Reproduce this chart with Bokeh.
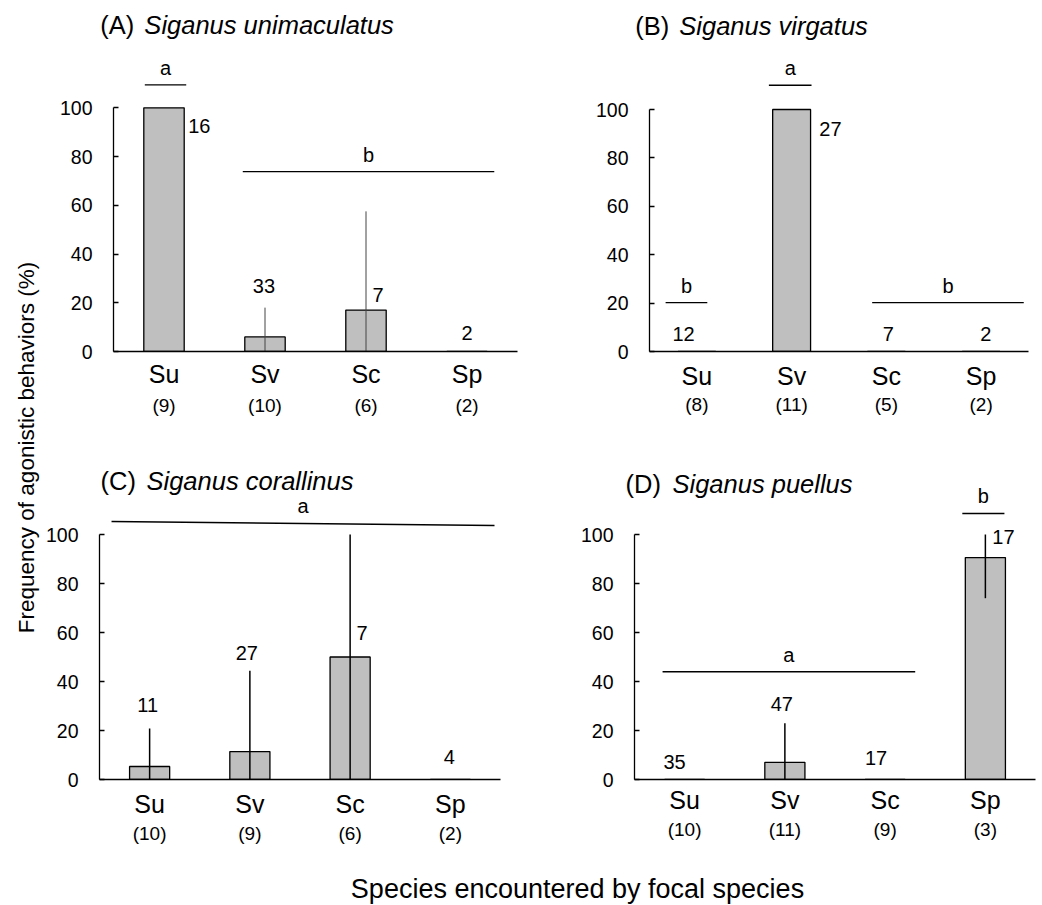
import numpy as np
from bokeh.plotting import figure
from bokeh.models import Range1d, FixedTicker, LinearAxis, Label
from bokeh.layouts import row, column
from bokeh.embed import file_html
from bokeh.resources import INLINE
from bokeh.core.properties import value

FONT = "Liberation Sans"

# ---------------- data ----------------
categories = ["Su", "Sv", "Sc", "Sp"]

# (A) Siganus unimaculatus
a_mean = [100, 6, 17, 0]
a_sd = [0, 12, 40.5, 0]
a_obs = ["16", "33", "7", "2"]
a_ind = ["(9)", "(10)", "(6)", "(2)"]

# (B) Siganus virgatus
b_mean = [0, 100, 0, 0]
b_sd = [0, 0, 0, 0]
b_obs = ["12", "27", "7", "2"]
b_ind = ["(8)", "(11)", "(5)", "(2)"]

# (C) Siganus corallinus
c_mean = [5.3, 11.4, 50, 0]
c_sd = [15.5, 33, 50, 0]
c_obs = ["11", "27", "7", "4"]
c_ind = ["(10)", "(9)", "(6)", "(2)"]

# (D) Siganus puellus
d_mean = [0, 7, 0, 90.6]
d_sd = [0, 16, 0, 16.6]
d_obs = ["35", "47", "17", "17"]
d_ind = ["(10)", "(11)", "(9)", "(3)"]

# significance groups: letter, categories covered
a_groups = [("a", ["Su"]), ("b", ["Sv", "Sc", "Sp"])]
b_groups = [("a", ["Sv"]), ("b", ["Su"]), ("b", ["Sc", "Sp"])]
c_groups = [("a", ["Su", "Sv", "Sc", "Sp"])]
d_groups = [("a", ["Su", "Sv", "Sc"]), ("b", ["Sp"])]

# ---------------- placement (annotation layout) ----------------
layout_cfg = {
    "A": dict(obs_pos=[(0.35, 92.6), (-0.01, 27), (0.12, 23), (0.0, 7.5)],
              sig=[(0.31, 0.72, 109.4, 109.4), (1.28, 3.77, 73.8, 73.8)],
              title_xy=(-0.13, 134), title_off=44, key_place="above", species_place="above",
              err_w=1.0, err_c="#444444"),
    "B": dict(obs_pos=[(-0.14, 7.4), (0.41, 92), (0.02, 7.4), (0.05, 7.4)],
              sig=[(1.26, 1.71, 110, 110), (0.17, 0.61, 20.2, 20.2), (2.35, 3.95, 20.2, 20.2)],
              title_xy=(-0.15, 134.7), title_off=44, key_place="above", species_place="above",
              err_w=1.3, err_c="black"),
    "C": dict(obs_pos=[(-0.02, 30.6), (-0.03, 51.8), (0.12, 60), (-0.01, 9)],
              sig=[(0.12, 3.94, 105.3, 103.7)],
              title_xy=(0.01, 122), title_off=46, key_place="center", species_place="center",
              err_w=1.5, err_c="black"),
    "D": dict(obs_pos=[(-0.10, 7.3), (-0.03, 31), (-0.09, 8.6), (0.18, 98.8)],
              sig=[(0.28, 2.8, 44, 44), (3.27, 3.69, 108.6, 108.6)],
              title_xy=(-0.09, 120.8), title_off=47, key_place="above", species_place="center",
              err_w=1.5, err_c="black"),
}


def make_panel(key, species, mean, sd, obs, ind, groups, fig_x0, fig_w, axis_px, right_px,
               height, bt, bb, scale, cat_standoff, ind_standoff):
    cfg = layout_cfg[key]
    bl = axis_px - fig_x0
    fw = right_px - axis_px
    br = fig_w - bl - fw
    frame_h = height - bb - bt
    ymax = frame_h / scale
    p = figure(width=fig_w, height=height, output_backend="svg", toolbar_location=None,
               x_range=Range1d(0, 4), y_range=Range1d(0, ymax),
               min_border_left=bl, min_border_right=br, min_border_top=bt,
               min_border_bottom=bb)
    p.outline_line_color = None
    p.xgrid.visible = False
    p.ygrid.visible = False
    p.background_fill_color = "white"
    p.border_fill_color = "white"

    xs = np.arange(len(categories)) + 0.5
    mean = np.array(mean, dtype=float)
    sd = np.array(sd, dtype=float)

    # bars
    p.vbar(x=xs, top=mean, bottom=0, width=0.4, fill_color="#bfbfbf",
           line_color="black", line_width=1.3)

    # error bars (mean ± SD, clipped to 0..100)
    m = sd > 0
    lo = np.clip(mean - sd, 0, 100)[m]
    hi = np.clip(mean + sd, 0, 100)[m]
    p.segment(x0=xs[m], y0=lo, x1=xs[m], y1=hi, line_color=cfg["err_c"],
              line_width=cfg["err_w"])

    # observation numbers
    ox = [xs[i] + cfg["obs_pos"][i][0] for i in range(len(xs))]
    oy = [cfg["obs_pos"][i][1] for i in range(len(xs))]
    p.text(x=ox, y=oy, text=obs, text_font=value(FONT), text_font_size="20px",
           text_align="center", text_baseline="middle", text_color="black")

    # significance lines and letters
    for (letter, cats), (x0, x1, y0, y1) in zip(groups, cfg["sig"]):
        p.segment(x0=[x0], y0=[y0], x1=[x1], y1=[y1], line_color="black", line_width=1.4)
        p.text(x=[(x0 + x1) / 2], y=[(y0 + y1) / 2 + 2.5], text=[letter],
               text_font=value(FONT), text_font_size="20px", text_align="center",
               text_baseline="bottom", text_color="black")

    # title: "(X)" upright + italic species name
    tx, ty = cfg["title_xy"]
    p.add_layout(Label(x=tx, y=ty, text="(%s)" % key, text_font=FONT, text_font_size="25.5px",
                       text_align="left", text_baseline="middle", text_color="black"),
                 cfg["key_place"])
    p.add_layout(Label(x=tx, y=ty, x_offset=cfg["title_off"], text=species, text_font=FONT,
                       text_font_size="25.5px", text_font_style="italic", text_align="left",
                       text_baseline="middle", text_color="black"), cfg["species_place"])

    # y axis
    ya = p.yaxis[0]
    ya.bounds = (0, 100)
    ya.ticker = FixedTicker(ticks=[0, 20, 40, 60, 80, 100])
    ya.major_tick_in = 5
    ya.major_tick_out = 0
    ya.minor_tick_line_color = None
    ya.axis_line_width = 1.3
    ya.major_tick_line_width = 1.3
    ya.major_label_standoff = 21
    ya.major_label_text_font = FONT
    ya.major_label_text_font_size = "19.5px"
    ya.major_label_text_color = "black"

    # x axis: category names
    xa = p.xaxis[0]
    xa.bounds = (0, 4)
    xa.ticker = FixedTicker(ticks=list(xs))
    xa.major_label_overrides = {float(x): c for x, c in zip(xs, categories)}
    xa.major_tick_line_color = None
    xa.major_tick_in = 0
    xa.major_tick_out = 0
    xa.minor_tick_line_color = None
    xa.axis_line_width = 1.3
    xa.major_label_standoff = cat_standoff
    xa.major_label_text_font = FONT
    xa.major_label_text_font_size = "25px"
    xa.major_label_text_color = "black"

    # second x axis: number of individuals
    xb = LinearAxis(ticker=FixedTicker(ticks=list(xs)),
                    major_label_overrides={float(x): s for x, s in zip(xs, ind)})
    xb.axis_line_color = None
    xb.major_tick_line_color = None
    xb.major_tick_in = 0
    xb.major_tick_out = 0
    xb.minor_tick_line_color = None
    xb.major_label_standoff = ind_standoff
    xb.major_label_text_font = FONT
    xb.major_label_text_font_size = "19px"
    xb.major_label_text_color = "black"
    p.add_layout(xb, "below")
    return p


pA = make_panel("A", "Siganus unimaculatus", a_mean, a_sd, a_obs, a_ind, a_groups,
                fig_x0=40, fig_w=480, axis_px=113, right_px=517,
                height=440, bt=58, bb=89, scale=2.437, cat_standoff=8, ind_standoff=4)
pB = make_panel("B", "Siganus virgatus", b_mean, b_sd, b_obs, b_ind, b_groups,
                fig_x0=520, fig_w=522, axis_px=649, right_px=1028,
                height=440, bt=58, bb=89, scale=2.42, cat_standoff=10, ind_standoff=1)
pC = make_panel("C", "Siganus corallinus", c_mean, c_sd, c_obs, c_ind, c_groups,
                fig_x0=40, fig_w=480, axis_px=99, right_px=500,
                height=420, bt=30, bb=81, scale=2.45, cat_standoff=10, ind_standoff=2)
pD = make_panel("D", "Siganus puellus", d_mean, d_sd, d_obs, d_ind, d_groups,
                fig_x0=520, fig_w=522, axis_px=634, right_px=1035,
                height=420, bt=30, bb=81, scale=2.45, cat_standoff=6, ind_standoff=2)


def label_fig(w, h):
    f = figure(width=w, height=h, output_backend="svg", toolbar_location=None,
               x_range=Range1d(0, w), y_range=Range1d(0, h),
               min_border=0, x_axis_location=None, y_axis_location=None)
    f.outline_line_color = None
    f.xgrid.visible = False
    f.ygrid.visible = False
    return f


yfig = label_fig(40, 860)
yfig.text(x=[26], y=[413], text=["Frequency of agonistic behaviors (%)"], angle=np.pi / 2,
          text_font=value(FONT), text_font_size="22.5px", text_align="center",
          text_baseline="middle", text_color="black")

xfig = label_fig(1042, 45)
xfig.text(x=[577], y=[17], text=["Species encountered by focal species"],
          text_font=value(FONT), text_font_size="27px", text_align="center",
          text_baseline="middle", text_color="black")

layout = column(row(yfig, column(row(pA, pB), row(pC, pD))), xfig)

open("out.html", "w").write(file_html(layout, INLINE))
